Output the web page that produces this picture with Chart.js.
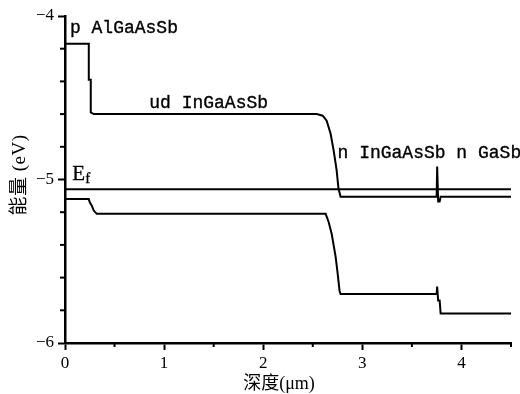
<!DOCTYPE html>
<html>
<head>
<meta charset="utf-8">
<script src="https://cdn.jsdelivr.net/npm/chart.js@4"></script>
<style>
  html, body { margin: 0; padding: 0; background: #fff; }
</style>
</head>
<body>
<canvas id="chart" width="520" height="394"></canvas>
<script>
// band edges (depth in um, energy in eV)
const cbX = [0, 0.24, 0.24, 0.26, 0.26, 0.29, 2.54, 2.60, 2.64, 2.68, 2.71, 2.74, 2.76, 2.77, 2.78, 3.75, 3.755, 3.765, 3.78, 3.79, 4.5];
const cbY = [-4.17, -4.17, -4.39, -4.39, -4.59, -4.60, -4.60, -4.61, -4.64, -4.72, -4.82, -4.94, -5.06, -5.08, -5.105, -5.105, -4.92, -5.135, -5.135, -5.105, -5.105];

const vbX = [0, 0.24, 0.25, 0.27, 0.29, 0.32, 2.63, 2.66, 2.69, 2.73, 2.75, 2.77, 2.78, 3.75, 3.755, 3.765, 3.78, 3.79, 4.5];
const vbY = [-5.12, -5.12, -5.14, -5.16, -5.19, -5.21, -5.21, -5.26, -5.33, -5.47, -5.57, -5.68, -5.70, -5.70, -5.655, -5.74, -5.74, -5.82, -5.82];

const efX = [0, 4.5];
const efY = [-5.06, -5.06];

const layerNames = ['p AlGaAsSb', 'ud InGaAsSb', 'n InGaAsSb n GaSb'];
const layerAtX = [0.05, 0.85, 2.75];
const layerAtY = [-4.104, -4.563, -4.87];

const xTitle = '深度(μm)';
const yTitle = '能量 (eV)';

function pts(xs, ys) {
    return xs.map((v, i) => ({ x: v, y: ys[i] }));
}

function line(ctx, x1, y1, x2, y2) {
    ctx.beginPath();
    ctx.moveTo(x1, y1);
    ctx.lineTo(x2, y2);
    ctx.stroke();
}

// fill + thin stroke, the original text is a bit heavier than the fonts we have
function heavyText(ctx, t, px, py, w) {
    ctx.lineWidth = w;
    ctx.fillText(t, px, py);
    ctx.strokeText(t, px, py);
}

const decor = {
    id: 'decor',
    afterDraw(c) {
        const { ctx, chartArea: a, scales: { x, y } } = c;
        ctx.save();
        ctx.strokeStyle = '#000';
        ctx.lineWidth = 2;
        // minor ticks
        for (let i = 1; i <= 9; i += 2) {
            const px = x.getPixelForValue(i * 0.5);
            line(ctx, px, a.bottom, px, a.bottom + 4);
        }
        for (let i = 1; i < 10; i++) {
            if (i % 5 === 0) continue;
            const py = y.getPixelForValue(-6 + i * 0.2);
            line(ctx, a.left - 5, py, a.left, py);
        }

        ctx.fillStyle = '#000';
        ctx.textAlign = 'left';
        ctx.textBaseline = 'alphabetic';
        ctx.font = '18px "Liberation Mono"';
        layerNames.forEach((t, i) => {
            heavyText(ctx, t, x.getPixelForValue(layerAtX[i]), y.getPixelForValue(layerAtY[i]), 0.35);
        });

        // Fermi level label
        const ex = x.getPixelForValue(0.074);
        const ey = y.getPixelForValue(-5.003);
        ctx.font = '21px "Liberation Serif"';
        heavyText(ctx, 'E', ex, ey, 0.3);
        const ew = ctx.measureText('E').width;
        ctx.font = '15px "Liberation Serif"';
        heavyText(ctx, 'f', ex + ew, ey + 3, 0.3);

        // axis titles
        ctx.font = '18px "Liberation Serif", "Noto Sans CJK SC"';
        ctx.textAlign = 'center';
        ctx.textBaseline = 'middle';
        ctx.fillText(xTitle, 279, 384);
        ctx.translate(20, 175);
        ctx.rotate(-Math.PI / 2);
        ctx.font = '19px "Liberation Serif", "Noto Sans CJK SC"';
        ctx.letterSpacing = '0.5px';
        ctx.fillText(yTitle, 0, 0);
        ctx.restore();
    }
};

const majorTick = (s) => (s.tick && Number.isInteger(s.tick.value)) ? '#000' : 'rgba(0,0,0,0)';

const ctx = document.getElementById('chart').getContext('2d');
new Chart(ctx, {
    type: 'scatter',
    data: {
        datasets: [
            { data: pts(cbX, cbY) },
            { data: pts(efX, efY) },
            { data: pts(vbX, vbY) }
        ]
    },
    options: {
        responsive: false,
        animation: false,
        devicePixelRatio: 1,
        showLine: true,
        elements: {
            point: { radius: 0 },
            line: { borderColor: '#000', borderWidth: 2, tension: 0 }
        },
        layout: { padding: { top: 16, right: 9, left: 0, bottom: 0 } },
        plugins: { legend: { display: false }, tooltip: { enabled: false } },
        scales: {
            x: {
                type: 'linear',
                min: 0, max: 4.5,
                border: { color: '#000', width: 2.5 },
                grid: { drawOnChartArea: false, tickLength: 7, tickWidth: 2, tickColor: majorTick },
                ticks: {
                    stepSize: 1, padding: 3, color: '#000',
                    font: { family: 'Liberation Serif', size: 17 },
                    callback: (v) => Number.isInteger(v) ? String(v) : ''
                },
                afterFit: (s) => { s.height = 51; }
            },
            y: {
                type: 'linear',
                min: -6, max: -4,
                border: { color: '#000', width: 2.5 },
                grid: { drawOnChartArea: false, tickLength: 7, tickWidth: 2, tickColor: majorTick },
                ticks: {
                    stepSize: 1, padding: 4, color: '#000',
                    font: { family: 'Liberation Serif', size: 17 },
                    callback: (v) => Number.isInteger(v) ? String(v).replace('-', '\u2212') : ''
                },
                afterFit: (s) => { s.width = 65; }
            }
        }
    },
    plugins: [decor]
});
</script>
</body>
</html>
